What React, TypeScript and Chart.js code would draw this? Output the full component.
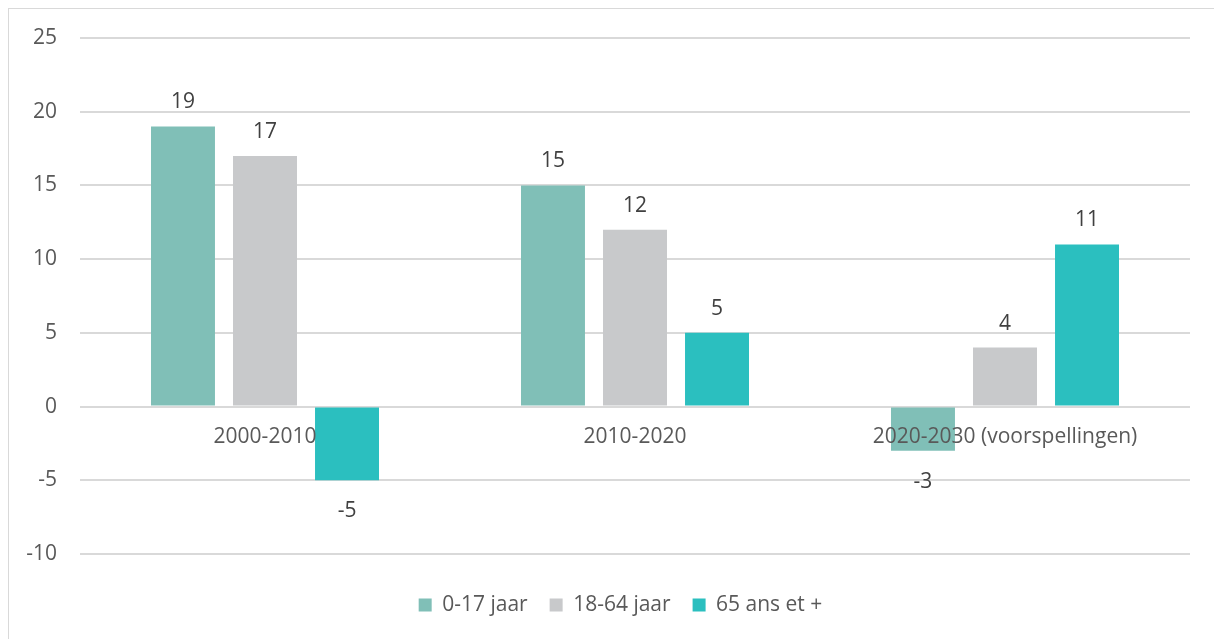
import React, { useEffect, useRef } from "react";
import { Chart, registerables } from "chart.js";

Chart.register(...registerables);

const categories = ["2000-2010", "2010-2020", "2020-2030 (voorspellingen)"];
const seriesNames = ["0-17 jaar", "18-64 jaar", "65 ans et +"];
const youth = [19, 15, -3];
const adults = [17, 12, 4];
const seniors = [-5, 5, 11];
const seriesColors = ["#80BFB7", "#C8C9CB", "#2BBFBF"];
const yMin = -10;
const yMax = 25;
const yStep = 5;

const FONT = "'Open Sans', 'Liberation Sans', sans-serif";

const valueLabels = {
  id: "valueLabels",
  afterDatasetsDraw(chart: any) {
    const ctx = chart.ctx;
    ctx.save();
    ctx.font = `21px ${FONT}`;
    ctx.fillStyle = "#404040";
    ctx.textAlign = "center";
    ctx.textBaseline = "middle";
    chart.data.datasets.forEach((ds: any, i: number) => {
      const meta = chart.getDatasetMeta(i);
      meta.data.forEach((el: any, j: number) => {
        const v = ds.data[j];
        const y = v >= 0 ? el.y - 24 : el.y + 31;
        ctx.fillText(String(v), el.x, y);
      });
    });
    ctx.restore();
  },
};

const legendShift = {
  id: "legendShift",
  afterLayout(chart: any) {
    const lg = chart.legend;
    if (lg) {
      lg.left += 21;
      lg.right += 21;
    }
  },
};

export default function App() {
  const ref = useRef<HTMLCanvasElement>(null);
  useEffect(() => {
    if (!ref.current) return;
    const chart = new Chart(ref.current, {
      type: "bar",
      data: {
        labels: categories,
        datasets: [youth, adults, seniors].map((d, i) => ({
          label: seriesNames[i],
          data: d,
          backgroundColor: seriesColors[i],
          borderWidth: 0,
          categoryPercentage: 0.665,
          barPercentage: 0.78,
        })),
      },
      options: {
        animation: false,
        responsive: false,
        maintainAspectRatio: false,
        layout: { padding: { top: 29, right: 24, left: 0, bottom: 13.5 } },
        plugins: {
          legend: {
            position: "bottom",
            title: {
              display: true,
              text: " ",
              font: { size: 10 },
              padding: { top: 0, bottom: 6.5 },
            },
            labels: {
              boxWidth: 13,
              boxHeight: 13,
              padding: 22,
              color: "#595959",
              font: { family: FONT, size: 21 },
            },
          },
          tooltip: { enabled: false },
        },
        scales: {
          x: {
            position: { y: 0 } as any,
            grid: { display: false, drawTicks: false },
            border: { display: false },
            ticks: {
              z: 1,
              color: "#595959",
              font: { family: FONT, size: 21 },
              padding: 18,
              maxRotation: 0,
              autoSkip: false,
            },
          },
          y: {
            min: yMin,
            max: yMax,
            grid: { color: "#D9D9D9", lineWidth: 2, drawTicks: false },
            border: { display: false },
            ticks: {
              stepSize: yStep,
              color: "#595959",
              font: { family: FONT, size: 21 },
              padding: 23,
            },
            afterFit(scale: any) {
              scale.width = 71;
              scale.paddingTop = 12;
              scale.paddingBottom = 12;
            },
          },
        },
      },
      plugins: [valueLabels, legendShift],
    });
    return () => chart.destroy();
  }, []);
  return (
    <div
      style={{
        position: "absolute",
        left: 8,
        top: 8,
        width: 1206,
        height: 631,
        boxSizing: "border-box",
        borderTop: "1px solid #D9D9D9",
        borderLeft: "1px solid #D9D9D9",
        background: "#fff",
      }}
    >
      <canvas ref={ref} width={1205} height={630} style={{ display: "block" }} />
    </div>
  );
}
